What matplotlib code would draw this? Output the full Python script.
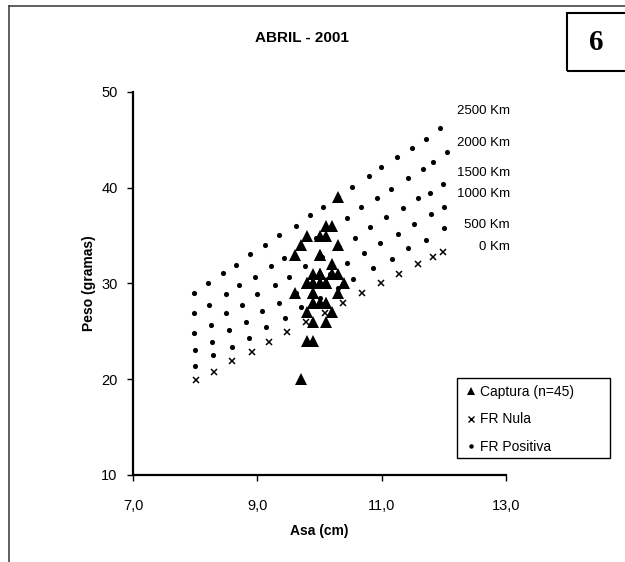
import matplotlib
matplotlib.use("Agg")
import matplotlib.pyplot as plt
from matplotlib.lines import Line2D
from matplotlib.patches import Rectangle

plt.rcParams['font.family'] = ['Liberation Sans', 'DejaVu Sans']

# ---- data ----
title = "ABRIL - 2001"
panel_number = "6"
x_label = "Asa (cm)"
y_label = "Peso (gramas)"
x_ticks = [7, 9, 11, 13]
x_tick_labels = ["7,0", "9,0", "11,0", "13,0"]
y_ticks = [10, 20, 30, 40, 50]

# Captura (n=45): wing (cm), weight (g)
captura_x = [10.3, 10.1, 10.2, 9.8, 10.0, 10.1, 9.7, 10.3, 9.6, 10.0,
             10.2, 9.9, 10.0, 10.2, 10.3, 9.8, 9.9, 10.0, 10.1, 10.4,
             9.6, 9.9, 10.3, 9.9, 10.0, 10.1, 9.8, 10.2, 9.9, 10.1,
             9.8, 9.9, 9.7,
             10.0, 9.9, 10.0, 10.1, 9.9, 10.0, 10.2, 10.0, 9.9, 10.1, 9.8, 10.0]
captura_y = [39, 36, 36, 35, 35, 35, 34, 34, 33, 33,
             32, 31, 31, 31, 31, 30, 30, 30, 30, 30,
             29, 29, 29, 28, 28, 28, 27, 27, 26, 26,
             24, 24, 20,
             30, 30, 31, 30, 28, 28, 31, 31, 29, 28, 30, 33]

# FR Nula (0 Km)
nula_x = [8.01, 8.30, 8.59, 8.91, 9.19, 9.48, 9.79, 10.09, 10.38, 10.68,
          10.99, 11.28, 11.59, 11.82, 11.99]
nula_y = [19.9, 20.8, 21.9, 22.85, 23.9, 24.9, 25.95, 26.9, 28.0, 29.0,
          30.1, 31.0, 32.0, 32.8, 33.3]

# FR Positiva rows
km500_x = [8.00, 8.29, 8.60, 8.86, 9.14, 9.45, 9.71, 10.00, 10.29, 10.54,
           10.86, 11.16, 11.42, 11.71, 12.00]
km500_y = [21.4, 22.5, 23.4, 24.3, 25.5, 26.4, 27.5, 28.5, 29.5, 30.5,
           31.6, 32.6, 33.7, 34.5, 35.8]
km1000_x = [7.99, 8.27, 8.54, 8.81, 9.08, 9.35, 9.62, 9.90, 10.17, 10.45,
            10.72, 10.98, 11.26, 11.52, 11.79, 12.00]
km1000_y = [23.05, 23.9, 25.1, 26.0, 27.1, 28.0, 29.0, 30.0, 31.0, 32.1,
            33.2, 34.2, 35.2, 36.2, 37.3, 38.0]
km1500_x = [7.98, 8.26, 8.50, 8.75, 9.00, 9.28, 9.51, 9.77, 10.04, 10.32,
            10.57, 10.81, 11.07, 11.34, 11.59, 11.78, 11.98]
km1500_y = [24.8, 25.7, 26.9, 27.8, 28.9, 29.8, 30.7, 31.8, 32.8, 33.8,
            34.8, 35.9, 36.9, 37.9, 38.9, 39.5, 40.4]
km2000_x = [7.98, 8.23, 8.49, 8.71, 8.96, 9.22, 9.43, 9.69, 9.94, 10.20,
            10.45, 10.67, 10.92, 11.15, 11.42, 11.67, 11.83, 12.05]
km2000_y = [26.9, 27.8, 28.9, 29.8, 30.7, 31.8, 32.7, 33.8, 34.8, 35.8,
            36.8, 38.0, 38.9, 39.9, 41.0, 42.0, 42.7, 43.7]
km2500_x = [7.98, 8.21, 8.44, 8.66, 8.89, 9.12, 9.35, 9.62, 9.85, 10.06,
            10.29, 10.52, 10.79, 10.99, 11.24, 11.48, 11.71, 11.94]
km2500_y = [29.0, 30.1, 31.1, 31.9, 33.1, 34.0, 35.1, 36.0, 37.2, 38.0,
            39.0, 40.1, 41.2, 42.2, 43.2, 44.2, 45.1, 46.2]

distance_labels = ["2500 Km", "2000 Km", "1500 Km", "1000 Km", "500 Km", "0 Km"]
distance_label_y = [48.05, 44.64, 41.57, 39.35, 36.11, 33.84]

legend_labels = ["Captura (n=45)", "FR Nula", "FR Positiva"]

# ---- figure ----
fig = plt.figure(figsize=(6.25, 5.62), dpi=100)
ax = fig.add_axes([133/625, 1 - 475/562, (506-133)/625, (475-92)/562])

dot_rows_x = [km500_x, km1000_x, km1500_x, km2000_x, km2500_x]
dot_rows_y = [km500_y, km1000_y, km1500_y, km2000_y, km2500_y]
for rx, ry in zip(dot_rows_x, dot_rows_y):
    ax.plot(rx, ry, linestyle='none', marker='o', ms=3.7, color='black',
            markeredgewidth=0, clip_on=False)
ax.plot(nula_x, nula_y, linestyle='none', marker='x', ms=4.5, mew=1.1,
        color='black', clip_on=False)
ax.plot(captura_x, captura_y, linestyle='none', marker='^', ms=8,
        color='black', markeredgewidth=0, clip_on=False)

ax.set_xlim(7, 13)
ax.set_ylim(10, 50)
ax.set_xticks(x_ticks)
ax.set_xticklabels(x_tick_labels)
ax.set_yticks(y_ticks)
ax.tick_params(axis='both', direction='out', length=4, width=1,
               labelsize=10.5, color='black')
ax.tick_params(axis='x', pad=13)
ax.tick_params(axis='y', pad=7)
for s in ['top', 'right']:
    ax.spines[s].set_visible(False)
for s in ['left', 'bottom']:
    ax.spines[s].set_linewidth(1.6)
ax.set_xlabel(x_label, fontsize=10, fontweight='bold', labelpad=8)
ax.set_ylabel(y_label, fontsize=10, fontweight='bold', labelpad=4)

for lab, ly in zip(distance_labels, distance_label_y):
    ax.text(13.06, ly, lab, ha='right', va='center', fontsize=9.5,
            clip_on=False)

fig.text(302/625, 1 - 38/562, title, ha='center', va='center',
         fontsize=11, fontweight='bold')

# panel number box
fig.add_artist(Rectangle((567/625, 1 - 71/562), 80/625, 58/562,
                         transform=fig.transFigure, fill=False,
                         edgecolor='black', linewidth=1.5, clip_on=False))
fig.text(596/625, 1 - 43/562, panel_number, ha='center', va='center',
         fontsize=21, fontweight='bold', family='Liberation Serif')

# outer frame (top and left)
fig.add_artist(Line2D([9/625, 9/625], [0, 1 - 6/562], transform=fig.transFigure,
                      color='#444444', linewidth=1.2))
fig.add_artist(Line2D([9/625, 1], [1 - 6/562, 1 - 6/562], transform=fig.transFigure,
                      color='#444444', linewidth=1.2))

# legend frame drawn separately so its size matches the reference box
fig.add_artist(Rectangle((457/625, 1 - 458/562), (610-457)/625, (458-378)/562,
                         transform=fig.transFigure, fill=True, facecolor='white',
                         edgecolor='black', linewidth=1.0, zorder=3))
handles = [
    Line2D([], [], linestyle='none', marker='^', ms=6, color='black', mew=0),
    Line2D([], [], linestyle='none', marker='x', ms=3.8, mew=1.0, color='black'),
    Line2D([], [], linestyle='none', marker='o', ms=3.2, color='black', mew=0),
]
leg = fig.legend(handles, legend_labels, loc='upper left',
                 bbox_to_anchor=(463/625, 1 - 381/562),
                 bbox_transform=fig.transFigure, fontsize=10,
                 frameon=False, handlelength=0.6, handletextpad=0.3,
                 borderpad=0.3, labelspacing=0.95, borderaxespad=0)
leg.set_zorder(4)

fig.savefig("out.png", dpi=100)
